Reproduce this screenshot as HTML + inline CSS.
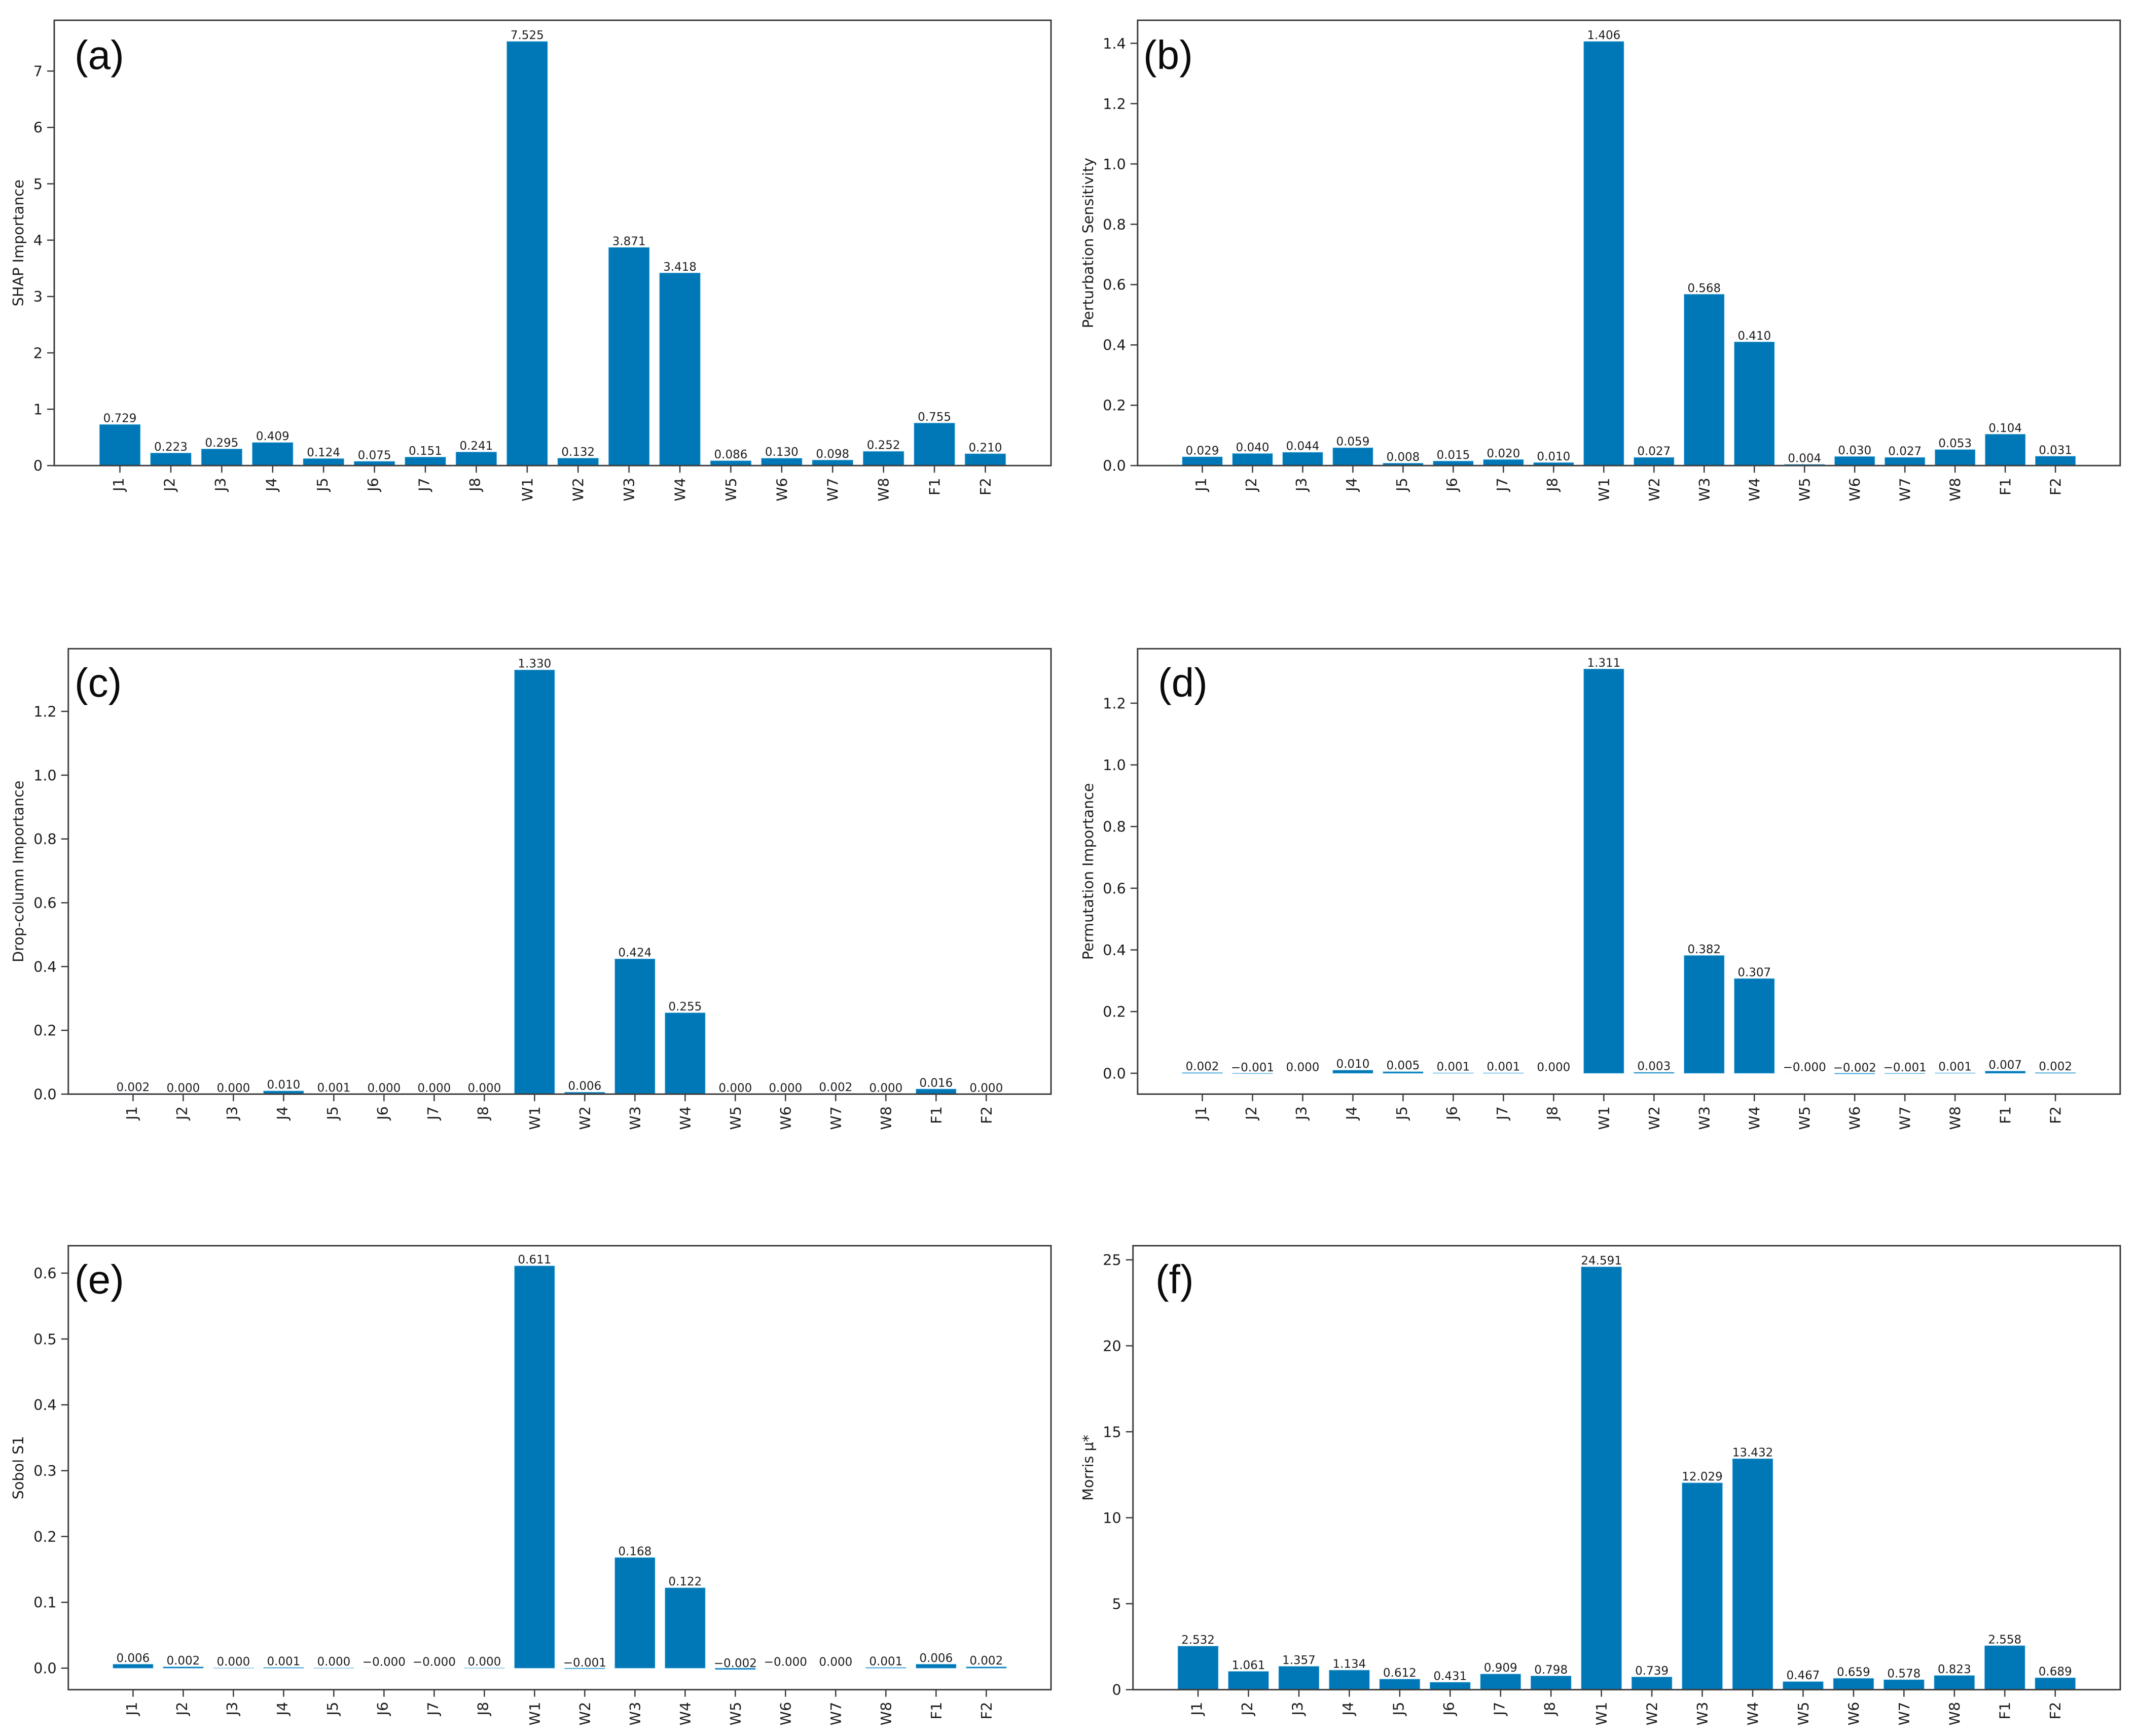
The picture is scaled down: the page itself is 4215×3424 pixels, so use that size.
<!DOCTYPE html>
<html lang="en">
<head>
<meta charset="utf-8">
<title>Feature importance comparison</title>
<style>
  html, body { margin: 0; padding: 0; background: #ffffff; }
  #chart { display: block; width: 4215px; height: 3424px; filter: blur(0.8px); background: #ffffff; }
  text { font-family: "DejaVu Sans", "Liberation Sans", sans-serif; fill: #1c1c1c; }
  .panel-label { font-family: "Liberation Sans", sans-serif; fill: #0a0a0a; }
</style>
</head>
<body>
<svg id="chart" xmlns="http://www.w3.org/2000/svg" width="4215" height="3424" viewBox="0 0 4215 3424"></svg>
<script>
const categories = ['J1','J2','J3','J4','J5','J6','J7','J8','W1','W2','W3','W4','W5','W6','W7','W8','F1','F2'];

const shapValues = [0.729,0.223,0.295,0.409,0.124,0.075,0.151,0.241,7.525,0.132,3.871,3.418,0.086,0.130,0.098,0.252,0.755,0.210];
const perturbationValues = [0.029,0.040,0.044,0.059,0.008,0.015,0.020,0.010,1.406,0.027,0.568,0.410,0.004,0.030,0.027,0.053,0.104,0.031];
const dropColumnValues = [0.002,0,0,0.010,0.001,0,0,0,1.330,0.006,0.424,0.255,0,0,0.002,0,0.016,0];
const permutationValues = [0.002,-0.001,0,0.010,0.005,0.001,0.001,0,1.311,0.003,0.382,0.307,-0.0001,-0.002,-0.001,0.001,0.007,0.002];
const sobolValues = [0.006,0.002,0.0003,0.001,0.0003,-0.0001,-0.0001,0.0003,0.611,-0.001,0.168,0.122,-0.002,-0.0001,0,0.001,0.006,0.002];
const morrisValues = [2.532,1.061,1.357,1.134,0.612,0.431,0.909,0.798,24.591,0.739,12.029,13.432,0.467,0.659,0.578,0.823,2.558,0.689];

const shapTicks = ['0','1','2','3','4','5','6','7'];
const perturbationTicks = ['0.0','0.2','0.4','0.6','0.8','1.0','1.2','1.4'];
const dropColumnTicks = ['0.0','0.2','0.4','0.6','0.8','1.0','1.2'];
const permutationTicks = ['0.0','0.2','0.4','0.6','0.8','1.0','1.2'];
const sobolTicks = ['0.0','0.1','0.2','0.3','0.4','0.5','0.6'];
const morrisTicks = ['0','5','10','15','20','25'];

const panelLayouts = [
  { id:'a', label:'(a)', title:'SHAP Importance', values:shapValues, ticks:shapTicks, left:107, right:2073, top:40, bottom:918.3, labelX:147, labelY:136, titleX:46 },
  { id:'b', label:'(b)', title:'Perturbation Sensitivity', values:perturbationValues, ticks:perturbationTicks, left:2243.8, right:4181.8, top:40, bottom:918.3, labelX:2255, labelY:136, titleX:2156 },
  { id:'c', label:'(c)', title:'Drop-column Importance', values:dropColumnValues, ticks:dropColumnTicks, left:134.7, right:2073, top:1279.5, bottom:2158, labelX:147, labelY:1374, titleX:46 },
  { id:'d', label:'(d)', title:'Permutation Importance', values:permutationValues, ticks:permutationTicks, left:2243.8, right:4181.8, top:1279.5, bottom:2158, labelX:2284, labelY:1374, titleX:2156 },
  { id:'e', label:'(e)', title:'Sobol S1', values:sobolValues, ticks:sobolTicks, left:134.7, right:2073, top:2457, bottom:3332.6, labelX:147, labelY:2551, titleX:46 },
  { id:'f', label:'(f)', title:'Morris \u03bc*', values:morrisValues, ticks:morrisTicks, left:2234.7, right:4182, top:2457, bottom:3332.6, labelX:2279, labelY:2551, titleX:2156 }
];

const SVG_NS = 'http://www.w3.org/2000/svg';
const BAR_COLOR = '#0077b6';
const BAR_EDGE = '#5db7e6';
const AXIS_COLOR = '#3f3f3f';
const TICK_FONT = 28.7;
const VALUE_FONT = 23;

function make(tag, attrs, parent, content) {
  const node = document.createElementNS(SVG_NS, tag);
  for (const key in attrs) node.setAttribute(key, attrs[key]);
  if (content !== undefined) node.textContent = content;
  parent.appendChild(node);
  return node;
}

function niceMinus(str) {
  return str.replace('-', '\u2212');
}

function yDomain(values) {
  const lo = Math.min.apply(null, values);
  const hi = Math.max.apply(null, values);
  if (lo >= 0) return [0, hi * 1.05];
  const pad = (hi - lo) * 0.05;
  return [lo - pad, hi + pad];
}

function drawPanel(p) {
  const root = document.getElementById('chart');
  const group = make('g', {}, root);
  
  

  const n = categories.length;
  const xMin = -1.29;
  const xMax = n - 1 + 1.29;
  const xScale = function (i) { return p.left + (i - xMin) / (xMax - xMin) * (p.right - p.left); };
  const dom = yDomain(p.values);
  const yScale = function (v) { return p.bottom - (v - dom[0]) / (dom[1] - dom[0]) * (p.bottom - p.top); };
  const barWidth = 0.8 * (xScale(1) - xScale(0));

  const frame = make('rect', { x:p.left, y:p.top, width:p.right - p.left, height:p.bottom - p.top, fill:'#ffffff', stroke:'none' }, group);
  
  

  p.values.forEach(function (v, i) {
    const y0 = yScale(0);
    const yv = yScale(v);
    const h = Math.abs(yv - y0);
    const bar = make('rect', {
      x: xScale(i) - barWidth / 2,
      y: Math.min(y0, yv),
      width: barWidth,
      height: h,
      fill: BAR_COLOR,
      stroke: h < 0.2 ? 'none' : BAR_EDGE,
      'stroke-width': 1,
      'stroke-opacity': 0.75
    }, group);
    
    

    const valueText = make('text', {
      x: xScale(i),
      y: yv - 4.6,
      'font-size': VALUE_FONT,
      'text-anchor': 'middle'
    }, group, niceMinus(v.toFixed(3)));
    
    
  });

  categories.forEach(function (name, i) {
    const tx = xScale(i);
    const tick = make('line', { x1:tx, x2:tx, y1:p.bottom, y2:p.bottom + 14, stroke:AXIS_COLOR, 'stroke-width':2.6 }, group);
    
    

    const shift = name.charAt(0) === 'J' ? 7.6 : 10.5;
    const lx = tx + shift;
    const ly = p.bottom + 24;
    const tickLabel = make('text', {
      x: lx,
      y: ly,
      'font-size': TICK_FONT,
      'text-anchor': 'end',
      transform: 'rotate(-90 ' + lx + ' ' + ly + ')'
    }, group, name);
    
    
  });

  p.ticks.forEach(function (label) {
    const ty = yScale(parseFloat(label));
    const tick = make('line', { x1:p.left - 14, x2:p.left, y1:ty, y2:ty, stroke:AXIS_COLOR, 'stroke-width':2.6 }, group);
    
    

    const tickLabel = make('text', {
      x: p.left - 23,
      y: ty + 10.4,
      'font-size': TICK_FONT,
      'text-anchor': 'end'
    }, group, label);
    
    
  });

  const spines = make('rect', { x:p.left, y:p.top, width:p.right - p.left, height:p.bottom - p.top, fill:'none', stroke:AXIS_COLOR, 'stroke-width':3 }, group);
  
  

  const midY = (p.top + p.bottom) / 2;
  const yTitle = make('text', {
    x: p.titleX,
    y: midY,
    'font-size': TICK_FONT,
    'text-anchor': 'middle',
    transform: 'rotate(-90 ' + p.titleX + ' ' + midY + ')'
  }, group, p.title);
  
  

  const panelLabel = make('text', {
    x: p.labelX,
    y: p.labelY,
    'font-size': 80,
    'class': 'panel-label'
  }, group, p.label);
  
  
}

panelLayouts.forEach(drawPanel);
</script>
</body>
</html>
